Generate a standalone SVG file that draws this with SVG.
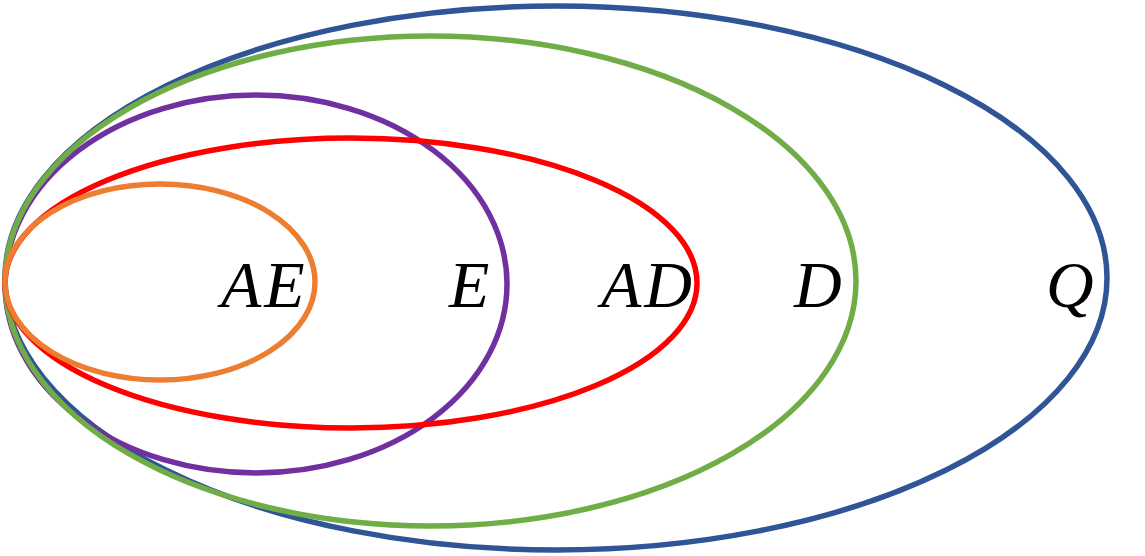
<svg xmlns="http://www.w3.org/2000/svg" width="1145" height="556" viewBox="0 0 1145 556">
<style>
.s{fill:none;stroke-width:5.5}
.t{font-family:"Liberation Serif","DejaVu Serif",serif;font-style:italic;font-size:66px;fill:#000;letter-spacing:3px}
</style>
<rect width="1145" height="556" fill="#fff"/>
<g id="Q"><ellipse class="s" cx="556" cy="278" rx="551" ry="272" stroke="#2F5597"/><text class="t" x="1046" y="307">Q</text></g>
<g id="E"><ellipse class="s" cx="256" cy="284" rx="251" ry="189" stroke="#7030A0"/><text class="t" x="449" y="307">E</text></g>
<g id="D"><ellipse class="s" cx="430.5" cy="281" rx="425.5" ry="245" stroke="#70AD47"/><text class="t" x="794" y="307">D</text></g>
<g id="AD"><ellipse class="s" cx="351" cy="283" rx="346" ry="145" stroke="#FF0000"/><text class="t" x="601" y="307">AD</text></g>
<g id="AE"><ellipse class="s" cx="160" cy="282" rx="155" ry="98" stroke="#ED7D31"/><text class="t" x="221" y="307">AE</text></g>
<g id="connectors"/>
</svg>
